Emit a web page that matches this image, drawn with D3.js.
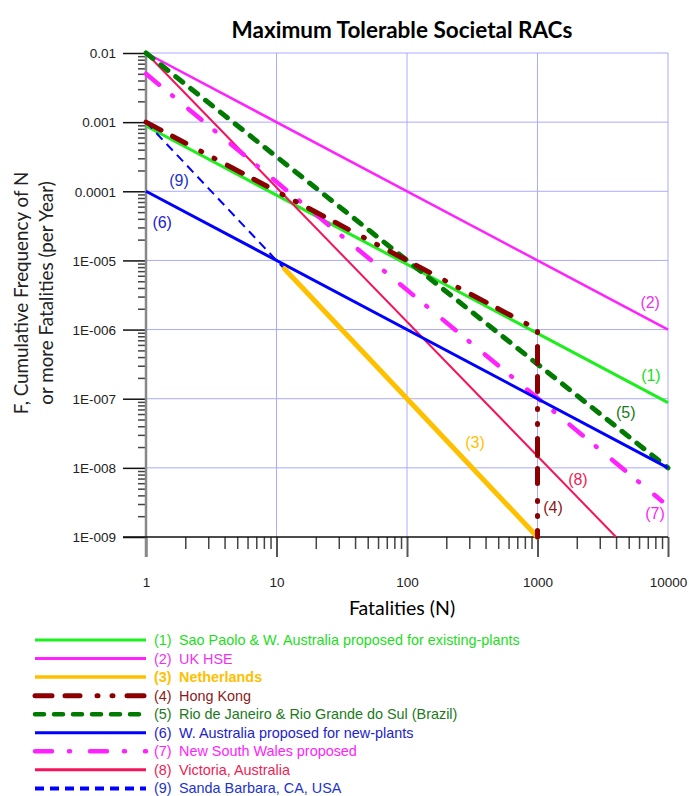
<!DOCTYPE html>
<html>
<head>
<meta charset="utf-8">
<script src="https://cdn.jsdelivr.net/npm/d3@7"></script>
<style>
  body { margin: 0; background: #fff; }
  svg { display: block; }
</style>
</head>
<body>
<div id="chart"></div>
<script>
// FN criteria, each one a list of [N, F] corner points (straight on log-log)
const saoPaulo = [[1, 8.8e-4], [10000, 8.8e-8]];
const ukHse = [[1, 1e-2], [10000, 1e-6]];
const netherlands = [[11.5, 7.6e-6], [1000, 1e-9]];
const hongKong = [[1, 1e-3], [1000, 1e-6], [1000, 1e-9]];
const rio = [[1, 1e-2], [10000, 1e-8]];
const wAusNew = [[1, 1e-4], [10000, 1e-8]];
const nsw = [[1, 5e-3], [9000, 3.3e-9]];
const victoria = [[1, 1e-2], [4000, 1e-9]];
const santaBarbara = [[1, 1e-3], [1000, 1e-9]];

const seriesNames = [
  "Sao Paolo & W. Australia proposed for existing-plants",
  "UK HSE",
  "Netherlands",
  "Hong Kong",
  "Rio de Janeiro & Rio Grande do Sul (Brazil)",
  "W. Australia proposed for new-plants",
  "New South Wales proposed",
  "Victoria, Australia",
  "Sanda Barbara, CA, USA"
];

const xTickValues = [1, 10, 100, 1000, 10000];
const xTickLabels = ["1", "10", "100", "1000", "10000"];
const yTickValues = [1e-9, 1e-8, 1e-7, 1e-6, 1e-5, 1e-4, 1e-3, 1e-2];
const yTickLabels = ["1E-009", "1E-008", "1E-007", "1E-006", "1E-005", "0.0001", "0.001", "0.01"];

// styles per series (same order as names); lw = legend line width
const styles = [
  {data: saoPaulo, color: "#1eee1e", text: "#22dd22", w: 3, lw: 3, dash: null, cap: "butt"},
  {data: ukHse, color: "#ff22ff", text: "#ee33ee", w: 2.5, lw: 3, dash: null, cap: "butt"},
  {data: netherlands, color: "#ffc000", text: "#ffc000", w: 5, lw: 3.5, dash: null, cap: "round", bold: true},
  {data: hongKong, color: "#8b0000", text: "#8b1a1a", w: 5, lw: 5, dash: "17,13,15,17,1,14,1,14", cap: "round"},
  {data: rio, color: "#007a00", text: "#1a7a1a", w: 5, lw: 4.5, dash: "9,10", cap: "round"},
  {data: wAusNew, color: "#0000ff", text: "#2222cc", w: 3, lw: 3, dash: null, cap: "butt"},
  {data: nsw, color: "#ff22ff", text: "#ff22ff", w: 4.5, lw: 4.5, dash: "17,17,1,20", cap: "round"},
  {data: victoria, color: "#f5145c", text: "#ee2255", w: 2, lw: 3, dash: null, cap: "butt"},
  {data: santaBarbara, color: "#0000ff", text: "#2233cc", w: 2, lw: 4, dash: "9,6", cap: "butt"}
];
const drawOrder = [0, 1, 7, 6, 4, 5, 8, 2, 3];

// in-plot number labels, [N, F] positions
const callouts = [
  {i: 0, at: [7400, 2.2e-7]},
  {i: 1, at: [7300, 2.5e-6]},
  {i: 2, at: [332, 2.3e-8]},
  {i: 3, at: [1315, 2.7e-9]},
  {i: 4, at: [4750, 6.4e-8]},
  {i: 5, at: [1.33, 3.5e-5]},
  {i: 6, at: [7950, 2.2e-9]},
  {i: 7, at: [2040, 6.7e-9]},
  {i: 8, at: [1.79, 1.46e-4]}
];

const W = 689, H = 796;
const svg = d3.select("#chart").append("svg").attr("width", W).attr("height", H);

const x = d3.scaleLog().domain([1, 10000]).range([146, 668]);
const y = d3.scaleLog().domain([1e-9, 1e-2]).range([537, 53]);

// minor ticks 2..9 per decade
const minor = (lo, hi) => {
  let out = [];
  for (let e = lo; e < hi; e++) for (let k = 2; k <= 9; k++) out.push(k * Math.pow(10, e));
  return out;
};

// grid
svg.append("g").selectAll("line.gx")
  .data(xTickValues.slice(1)).enter()
  .append("line")
  .attr("x1", x).attr("x2", x)
  .attr("y1", y(1e-2)).attr("y2", y(1e-9))
  .attr("stroke", "#aaaaff").attr("stroke-width", 1);
svg.append("g").selectAll("line.gy")
  .data(yTickValues.slice(1)).enter()
  .append("line")
  .attr("x1", x(1)).attr("x2", x(10000))
  .attr("y1", y).attr("y2", y)
  .attr("stroke", "#aaaaff").attr("stroke-width", 1);

// y axis ticks
const yMinor = svg.append("g").attr("transform", "translate(146,0)")
  .call(d3.axisLeft(y).tickValues(minor(-9, -2)).tickSize(8).tickFormat(""));
const yMajor = svg.append("g").attr("transform", "translate(146,0)")
  .call(d3.axisLeft(y).tickValues(yTickValues).tickSize(23)
    .tickFormat((d, i) => yTickLabels[i]));
// x axis ticks
const xMinor = svg.append("g").attr("transform", "translate(0,537)")
  .call(d3.axisBottom(x).tickValues(minor(0, 4)).tickSize(12).tickFormat(""));
const xMajor = svg.append("g").attr("transform", "translate(0,537)")
  .call(d3.axisBottom(x).tickValues(xTickValues).tickSize(20)
    .tickFormat((d, i) => xTickLabels[i]));

for (const g of [yMinor, yMajor, xMinor, xMajor]) {
  g.select(".domain").remove();
  g.selectAll("line").attr("stroke", "#444").attr("stroke-width", 1.5);
}
yMajor.selectAll("line").attr("stroke", "#111");
yMajor.selectAll("text")
  .attr("x", -30).attr("dy", "0.35em")
  .style("font", "13.5px 'Liberation Sans', Arial, sans-serif").attr("fill", "#222");
xMajor.selectAll("line").attr("stroke", "#555").attr("stroke-width", 2);
xMajor.selectAll("text")
  .attr("y", 40)
  .style("font", "13.5px 'Liberation Sans', Arial, sans-serif").attr("fill", "#222");

// axis lines
svg.append("line")
  .attr("x1", 146).attr("x2", 146).attr("y1", 53).attr("y2", 557)
  .attr("stroke", "#888").attr("stroke-width", 2.5);
svg.append("line")
  .attr("x1", 123).attr("x2", 668).attr("y1", 537).attr("y2", 537)
  .attr("stroke", "#111").attr("stroke-width", 1.5);

// lines
const line = d3.line().x((d) => x(d[0])).y((d) => y(d[1]));
svg.append("g").selectAll("path")
  .data(drawOrder.map((i) => styles[i])).enter()
  .append("path")
  .attr("d", (d) => line(d.data))
  .attr("fill", "none")
  .attr("stroke", (d) => d.color)
  .attr("stroke-width", (d) => d.w)
  .attr("stroke-linecap", (d) => d.cap)
  .attr("stroke-dasharray", (d) => d.dash);

// callout numbers
svg.append("g").selectAll("text")
  .data(callouts).enter()
  .append("text")
  .attr("x", (d) => x(d.at[0]))
  .attr("y", (d) => y(d.at[1]))
  .attr("text-anchor", "middle")
  .attr("dy", "0.35em")
  .attr("fill", (d) => styles[d.i].text)
  .style("font", "16px 'Liberation Sans', Arial, sans-serif")
  .text((d) => "(" + (d.i + 1) + ")");

// titles
svg.append("text")
  .attr("x", 402).attr("y", 30).attr("dy", "0.35em")
  .attr("text-anchor", "middle")
  .style("font", "bold 22.5px Lato, 'Open Sans', sans-serif")
  .text("Maximum Tolerable Societal RACs");
svg.append("text")
  .attr("x", 402).attr("y", 608).attr("dy", "0.35em")
  .attr("text-anchor", "middle")
  .style("font", "19.5px Lato, 'Open Sans', sans-serif")
  .text("Fatalities (N)");
const yTitle = svg.append("text")
  .attr("transform", "translate(0,293) rotate(-90)")
  .attr("text-anchor", "middle")
  .style("font", "18.8px Lato, 'Open Sans', sans-serif")
  .attr("fill", "#222");
yTitle.append("tspan").attr("x", 0).attr("y", 28).text("F, Cumulative Frequency of N");
yTitle.append("tspan").attr("x", 0).attr("y", 53).text("or more Fatalities (per Year)");

// legend
const rowY = (i) => 640 + i * 18.55;
const leg = svg.append("g").selectAll("g")
  .data(styles).enter()
  .append("g");
leg.append("line")
  .attr("x1", 35).attr("x2", 146)
  .attr("y1", (d, i) => rowY(i)).attr("y2", (d, i) => rowY(i))
  .attr("stroke", (d) => d.color)
  .attr("stroke-width", (d) => d.lw)
  .attr("stroke-dasharray", (d) => d.dash)
  .attr("stroke-linecap", (d) => d.cap === "round" && d.dash ? "round" : "butt");
leg.append("text")
  .attr("x", 154).attr("y", (d, i) => rowY(i)).attr("dy", "0.35em")
  .attr("fill", (d) => d.text)
  .style("font", (d) => (d.bold ? "bold " : "") + "14.4px 'Liberation Sans', Arial, sans-serif")
  .text((d, i) => "(" + (i + 1) + ")");
leg.append("text")
  .attr("x", 179).attr("y", (d, i) => rowY(i)).attr("dy", "0.35em")
  .attr("fill", (d) => d.text)
  .style("font", (d) => (d.bold ? "bold " : "") + "14.4px 'Liberation Sans', Arial, sans-serif")
  .text((d, i) => seriesNames[i]);
</script>
</body>
</html>
